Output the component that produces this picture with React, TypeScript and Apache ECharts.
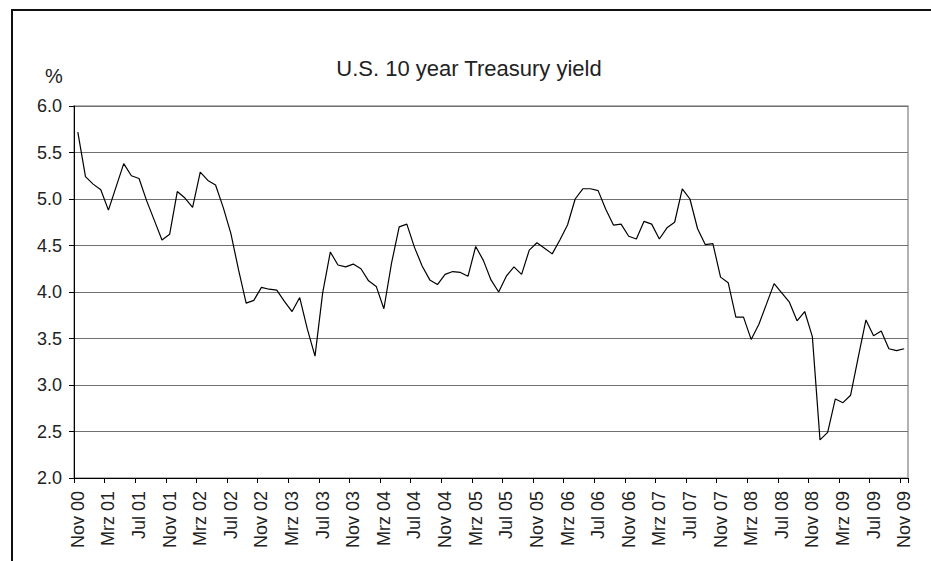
import React, { useEffect, useRef } from "react";
import * as echarts from "echarts";

const monthNames = ["Jan", "Feb", "Mrz", "Apr", "Mai", "Jun", "Jul", "Aug", "Sep", "Okt", "Nov", "Dez"];

// Nov 2000 .. Nov 2009, monthly
const categories: string[] = [];
for (let k = 0; k < 109; k++) {
  const m = (10 + k) % 12;
  const y = 2000 + Math.floor((10 + k) / 12);
  categories.push(monthNames[m] + " " + String(y % 100).padStart(2, "0"));
}

const yields2000 = [5.72, 5.24];
const yields2001 = [5.16, 5.10, 4.88, 5.13, 5.38, 5.25, 5.22, 4.98, 4.77, 4.56, 4.62, 5.08];
const yields2002 = [5.01, 4.91, 5.29, 5.20, 5.15, 4.91, 4.63, 4.24, 3.88, 3.91, 4.05, 4.03];
const yields2003 = [4.02, 3.90, 3.79, 3.94, 3.60, 3.31, 3.99, 4.43, 4.29, 4.27, 4.30, 4.25];
const yields2004 = [4.12, 4.06, 3.82, 4.31, 4.70, 4.73, 4.48, 4.28, 4.13, 4.08, 4.19, 4.22];
const yields2005 = [4.21, 4.17, 4.49, 4.34, 4.13, 4.00, 4.17, 4.27, 4.19, 4.45, 4.53, 4.47];
const yields2006 = [4.41, 4.56, 4.72, 5.00, 5.11, 5.11, 5.09, 4.89, 4.72, 4.73, 4.60, 4.57];
const yields2007 = [4.76, 4.73, 4.57, 4.69, 4.75, 5.11, 5.00, 4.68, 4.51, 4.52, 4.16, 4.10];
const yields2008 = [3.73, 3.73, 3.49, 3.65, 3.87, 4.09, 3.99, 3.89, 3.69, 3.79, 3.52, 2.41];
const yields2009 = [2.49, 2.85, 2.81, 2.89, 3.30, 3.70, 3.53, 3.58, 3.39, 3.37, 3.39];

const yields = [
  ...yields2000, ...yields2001, ...yields2002, ...yields2003, ...yields2004,
  ...yields2005, ...yields2006, ...yields2007, ...yields2008, ...yields2009,
];

const FONT = "'Liberation Sans', Arial, Helvetica, sans-serif";

export default function App() {
  const ref = useRef<HTMLDivElement>(null);
  useEffect(() => {
    document.body.style.margin = "0";
    if (!ref.current) return;
    const chart = echarts.init(ref.current, null, { renderer: "svg" });
    chart.setOption({
      animation: false,
      backgroundColor: "#ffffff",
      textStyle: { fontFamily: FONT },
      grid: {
        left: 74, top: 106, right: 23, bottom: 83,
        show: true, borderColor: "#999", borderWidth: 1.5, backgroundColor: "transparent",
      },
      graphic: [
        {
          type: "rect",
          shape: { x: 12, y: 10, width: 3000, height: 3000 },
          style: { fill: "none", stroke: "#111", lineWidth: 2 },
          silent: true,
        },
        {
          type: "text",
          x: 469, y: 68,
          style: {
            text: "U.S. 10 year Treasury yield",
            fontSize: 22, fontFamily: FONT, fill: "#222",
            textAlign: "center", textVerticalAlign: "middle",
          },
        },
        {
          type: "text",
          x: 54, y: 76,
          style: {
            text: "%", fontSize: 20, fontFamily: FONT, fill: "#222",
            textAlign: "center", textVerticalAlign: "middle",
          },
        },
      ],
      xAxis: {
        type: "category",
        data: categories,
        boundaryGap: true,
        axisLine: { show: true, lineStyle: { color: "#000", width: 1 } },
        axisTick: { show: true, interval: 3, length: 5, lineStyle: { color: "#000" } },
        axisLabel: {
          interval: 3, rotate: 90, margin: 13,
          fontSize: 18, fontFamily: FONT, color: "#222",
        },
        splitLine: { show: false },
      },
      yAxis: {
        type: "value",
        min: 2, max: 6, interval: 0.5,
        axisLine: { show: true, lineStyle: { color: "#000", width: 1 } },
        axisTick: { show: true, length: 5, lineStyle: { color: "#000" } },
        axisLabel: {
          margin: 12, fontSize: 18, fontFamily: FONT, color: "#222",
          formatter: (v: number) => v.toFixed(1),
        },
        splitLine: { show: true, lineStyle: { color: "#707070", width: 1 } },
      },
      series: [
        {
          type: "line",
          data: yields,
          symbol: "none",
          smooth: false,
          lineStyle: { color: "#000", width: 1.2 },
        },
      ],
    });
    return () => chart.dispose();
  }, []);
  return <div ref={ref} style={{ width: 931, height: 561 }} />;
}
